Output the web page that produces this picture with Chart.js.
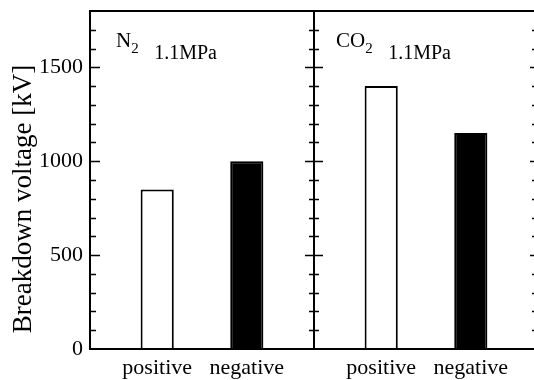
<!DOCTYPE html>
<html>
<head>
    <title>Breakdown voltage</title>
    <script src="https://cdn.jsdelivr.net/npm/chart.js"></script>
    <style>
        html, body { margin: 0; padding: 0; background: #ffffff; overflow: hidden; }
        .wrap { position: relative; width: 538px; height: 380px; }
    </style>
</head>
<body>
<div class="wrap">
    <canvas id="bdChart"></canvas>
</div>
<script>
    // data
    var gases = ["N", "CO"];          // subscript 2 drawn separately
    var pressure = "1.1MPa";
    var polarity = ["positive", "negative"];
    var positiveKV = [850, 1400];
    var negativeKV = [1000, 1150];
    var yTicks = [0, 500, 1000, 1500];

    // each panel: blank, positive, blank, negative, blank
    var labels = [];
    var values = [];
    var fills = [];
    for (var g = 0; g < gases.length; g++) {
        labels.push("", polarity[0], "", polarity[1], "");
        values.push(null, positiveKV[g], null, negativeKV[g], null);
        fills.push("#fff", "#fff", "#fff", "#000", "#fff");
    }

    var serif = "'Liberation Serif', 'Times New Roman', serif";

    var framePlugin = {
        id: "frame",
        afterDraw: function(chart) {
            var ctx = chart.ctx, a = chart.chartArea, y = chart.scales.y;
            var mid = (a.left + a.right) / 2;
            ctx.save();
            ctx.strokeStyle = "#000";
            ctx.lineWidth = 2;
            ctx.strokeRect(a.left, a.top, a.right - a.left, a.bottom - a.top);
            ctx.beginPath();
            ctx.moveTo(mid, a.top);
            ctx.lineTo(mid, a.bottom);
            ctx.stroke();

            ctx.lineWidth = 1.5;
            for (var v = 100; v < 1800; v += 100) {
                var py = Math.round(y.getPixelForValue(v)) + 0.5;
                var major = v % 500 === 0;
                var l = major ? 10 : 6;
                var m = major ? 9 : 5;
                ctx.beginPath();
                ctx.moveTo(a.left, py); ctx.lineTo(a.left + l, py);
                ctx.moveTo(mid - m, py); ctx.lineTo(mid + m, py);
                ctx.moveTo(a.right, py); ctx.lineTo(a.right - (major ? 8 : 6), py);
                ctx.stroke();
            }

            // panel captions
            ctx.fillStyle = "#000";
            ctx.textBaseline = "alphabetic";
            var starts = [a.left + 26, mid + 22];
            for (var g = 0; g < gases.length; g++) {
                ctx.font = "21px " + serif;
                ctx.fillText(gases[g], starts[g], 47);
                var w = ctx.measureText(gases[g]).width;
                ctx.font = "15px " + serif;
                ctx.fillText("2", starts[g] + w, 53);
                ctx.font = "20px " + serif;
                ctx.fillText(pressure, starts[g] + w + 23, 59);
            }

            // y axis title
            ctx.translate(24, 199);
            ctx.rotate(-Math.PI / 2);
            ctx.font = "27px " + serif;
            ctx.textAlign = "center";
            ctx.textBaseline = "middle";
            ctx.fillText("Breakdown voltage [kV]", 0, 0);
            ctx.restore();
        }
    };

    new Chart(document.getElementById("bdChart"), {
        type: "bar",
        data: {
            labels: labels,
            datasets: [{
                data: values,
                backgroundColor: fills,
                borderColor: "#000",
                borderWidth: 2,
                barPercentage: 0.74,
                categoryPercentage: 1.0
            }]
        },
        options: {
            responsive: true,
            maintainAspectRatio: false,
            animation: false,
            layout: { padding: { top: 11, right: 0, bottom: 0, left: 0 } },
            plugins: { legend: { display: false }, tooltip: { enabled: false } },
            scales: {
                x: {
                    grid: { display: false, drawTicks: false },
                    border: { display: false },
                    ticks: {
                        color: "#000",
                        font: { family: serif, size: 22 },
                        padding: 6,
                        maxRotation: 0,
                        autoSkip: false
                    },
                    afterFit: function(s) { s.height = 31; s.paddingLeft = 0; s.paddingRight = 0; }
                },
                y: {
                    min: 0,
                    max: 1800,
                    grid: { display: false, drawTicks: false },
                    border: { display: false },
                    afterBuildTicks: function(s) {
                        s.ticks = yTicks.map(function(v) { return { value: v }; });
                    },
                    ticks: {
                        color: "#000",
                        font: { family: serif, size: 22 },
                        padding: 7,
                        callback: function(v) { return String(v); }
                    },
                    afterFit: function(s) { s.width = 90; s.paddingTop = 0; s.paddingBottom = 0; }
                }
            }
        },
        plugins: [framePlugin]
    });
</script>
</body>
</html>
